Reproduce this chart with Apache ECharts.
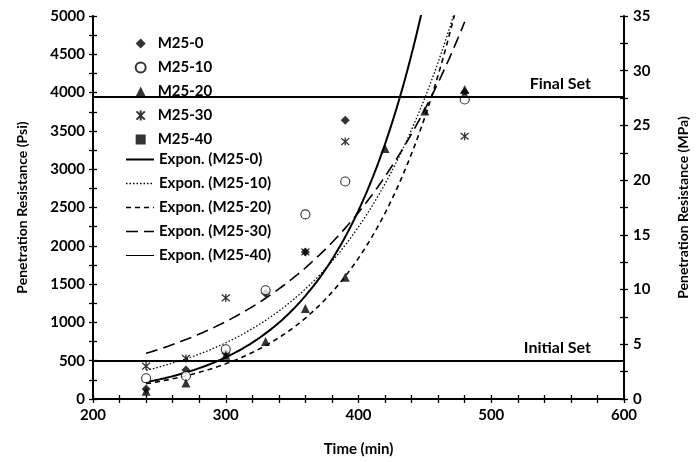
<!DOCTYPE html>
<html>
<head>
<meta charset="utf-8">
<script src="https://cdn.jsdelivr.net/npm/echarts@6/dist/echarts.min.js"></script>
<style>
  html, body { margin: 0; padding: 0; background: #ffffff; }
  #chart { width: 698px; height: 462px; }
</style>
</head>
<body>
<div id="chart"></div>
<script>
// Penetration resistance readings (psi) against elapsed time (min)
const times = [240, 270, 300, 330, 360, 390, 480];
const times20 = [240, 270, 300, 330, 360, 390, 420, 450, 480];
const m25_0 = [130, 380, 600, 1380, 1920, 3640, 4000];
const m25_10 = [270, 300, 650, 1420, 2410, 2840, 3910];
const m25_20 = [100, 210, 570, 750, 1180, 1590, 3270, 3760, 4040];
const m25_30 = [430, 530, 1320, 1800, 1920, 3360, 3430];
const m25_40 = [];

const mixNames = ['M25-0', 'M25-10', 'M25-20', 'M25-30', 'M25-40'];
const trendNames = ['Expon. (M25-0)', 'Expon. (M25-10)', 'Expon. (M25-20)', 'Expon. (M25-30)', 'Expon. (M25-40)'];

// Exponential trend equations: psi = a * exp(b * t)
const trendA = [5.887, 25.57, 7.166, 72.1];
const trendB = [0.01509, 0.01119, 0.01387, 0.0088];
const trendFrom = [240, 240, 240, 240];
const trendTo = [480, 480, 480, 480];

// Setting thresholds (psi), plotted on the MPa axis
const setNames = ['Initial Set', 'Final Set'];
const setPsi = [500, 4000];
const PSI_TO_MPA = 0.00689476;

const xTicks = { min: 200, max: 600, step: 20, labelStep: 100 };
const psiTicks = { min: 0, max: 5000, step: 250, labelStep: 500 };
const mpaTicks = { min: 0, max: 35, step: 2.5, labelStep: 5 };

const FONT = 'Lato';
const INK = '#000000';

function pairs(xs, ys) { return ys.map((y, i) => [xs[i], y]); }

function trendPoints(i) {
  if (i >= trendA.length) return [];
  const pts = [];
  for (let t = trendFrom[i]; t <= trendTo[i] + 1e-9; t += 1) {
    pts.push([t, trendA[i] * Math.exp(trendB[i] * t)]);
  }
  return pts;
}

const asterisk = 'path://M0,0L10,10M10,0L0,10M5,-1L5,11';

const scatterStyles = [
  { symbol: 'diamond', symbolSize: 9, itemStyle: { color: INK } },
  { symbol: 'circle', symbolSize: 9, itemStyle: { color: '#ffffff', borderColor: INK, borderWidth: 1.1 } },
  { symbol: 'triangle', symbolSize: 9, itemStyle: { color: INK } },
  { symbol: asterisk, symbolSize: 8, itemStyle: { color: 'none', borderColor: INK, borderWidth: 1.3 } },
  { symbol: 'rect', symbolSize: 9, itemStyle: { color: INK } }
];
const scatterData = [pairs(times, m25_0), pairs(times, m25_10), pairs(times20, m25_20), pairs(times, m25_30), pairs(times, m25_40)];

const trendStyles = [
  { width: 2, type: 'solid' },
  { width: 1.3, type: [1.5, 2] },
  { width: 1.6, type: [5, 4] },
  { width: 1.6, type: [12, 6] },
  { width: 1, type: 'solid' }
];

const tickLabel = (step) => (v) => (Math.abs(v / step - Math.round(v / step)) < 1e-6 ? String(v) : '');

const labelFont = { color: INK, fontFamily: FONT, fontWeight: 'bold', fontSize: 15 };
const nameFont = { color: INK, fontFamily: FONT, fontWeight: 'bold', fontSize: 14 };
const axisLine = { show: true, lineStyle: { color: INK, width: 2 } };
const legendText = { color: INK, fontFamily: FONT, fontWeight: 'bold', fontSize: 15, lineHeight: 14 };

const series = [];
mixNames.forEach((n, i) => {
  series.push(Object.assign({
    name: n, type: 'scatter', xAxisIndex: 0, yAxisIndex: 0,
    data: scatterData[i], z: 3
  }, scatterStyles[i]));
});
trendNames.forEach((n, i) => {
  series.push({
    name: n, type: 'line', xAxisIndex: 0, yAxisIndex: 0,
    data: trendPoints(i), showSymbol: false, symbol: 'none', smooth: false,
    lineStyle: { color: INK, width: trendStyles[i].width, type: trendStyles[i].type },
    itemStyle: { color: INK }, z: 2, clip: true
  });
});
series.push({
  name: 'sets', type: 'line', xAxisIndex: 0, yAxisIndex: 2, data: [],
  markLine: {
    silent: true, symbol: 'none', animation: false,
    lineStyle: { color: INK, width: 2, type: 'solid' },
    label: {
      show: true, position: 'insideEndTop', formatter: '{b}', distance: [33, 5],
      color: INK, fontFamily: FONT, fontWeight: 'bold', fontSize: 16
    },
    data: setNames.map((n, i) => ({ name: n, yAxis: setPsi[i] * PSI_TO_MPA }))
  }
});

const option = {
  animation: false,
  backgroundColor: '#ffffff',
  grid: { left: 93, right: 65, top: 16, bottom: 60, containLabel: false },
  legend: [
    {
      orient: 'vertical', left: 129, top: 31, padding: 5,
      backgroundColor: '#ffffff', selectedMode: false,
      itemWidth: 10, itemHeight: 10, itemGap: 9,
      data: mixNames,
      textStyle: Object.assign({ padding: [0, 0, 0, 7] }, legendText)
    },
    {
      orient: 'vertical', left: 120, top: 147, padding: 5,
      backgroundColor: '#ffffff', selectedMode: false,
      itemWidth: 28, itemHeight: 10, itemGap: 9,
      data: trendNames.map((n, i) => ({
        name: n,
        itemStyle: { opacity: 0 },
        lineStyle: { color: INK, width: trendStyles[i].width, type: trendStyles[i].type, opacity: 1 }
      })),
      textStyle: legendText
    }
  ],
  xAxis: [
    {
      type: 'value', position: 'bottom', min: xTicks.min, max: xTicks.max, interval: xTicks.step,
      axisLine: axisLine, splitLine: { show: false },
      axisTick: { show: true, inside: false, length: 4, lineStyle: { color: INK, width: 1.3 } },
      axisLabel: Object.assign({ formatter: tickLabel(xTicks.labelStep), margin: 9 }, labelFont),
      name: 'Time (min)', nameLocation: 'middle', nameGap: 43,
      nameTextStyle: Object.assign({}, nameFont, { fontSize: 15 })
    },
    {
      type: 'value', position: 'bottom', min: xTicks.min, max: xTicks.max, interval: xTicks.step,
      axisLine: { show: false }, splitLine: { show: false }, axisLabel: { show: false },
      axisTick: { show: true, inside: true, length: 4, lineStyle: { color: INK, width: 1.3 } }
    },
    {
      type: 'value', position: 'top', min: xTicks.min, max: xTicks.max,
      axisLine: axisLine, splitLine: { show: false }, axisLabel: { show: false }, axisTick: { show: false }
    }
  ],
  yAxis: [
    {
      type: 'value', position: 'left', min: psiTicks.min, max: psiTicks.max, interval: psiTicks.step,
      axisLine: axisLine, splitLine: { show: false },
      axisTick: { show: true, inside: false, length: 4, lineStyle: { color: INK, width: 1.3 } },
      axisLabel: Object.assign({ formatter: tickLabel(psiTicks.labelStep), margin: 8 }, labelFont),
      name: 'Penetration Resistance (Psi)', nameLocation: 'middle', nameRotate: 90, nameGap: 64,
      nameTextStyle: nameFont
    },
    {
      type: 'value', position: 'left', min: psiTicks.min, max: psiTicks.max, interval: psiTicks.step,
      axisLine: { show: false }, splitLine: { show: false }, axisLabel: { show: false },
      axisTick: { show: true, inside: true, length: 4, lineStyle: { color: INK, width: 1.3 } }
    },
    {
      type: 'value', position: 'right', min: mpaTicks.min, max: mpaTicks.max, interval: mpaTicks.step,
      axisLine: axisLine, splitLine: { show: false },
      axisTick: { show: true, inside: false, length: 4, lineStyle: { color: INK, width: 1.3 } },
      axisLabel: Object.assign({ formatter: tickLabel(mpaTicks.labelStep), margin: 9 }, labelFont),
      name: 'Penetration Resistance (MPa)', nameLocation: 'middle', nameRotate: 90, nameGap: 52,
      nameTextStyle: nameFont
    },
    {
      type: 'value', position: 'right', min: mpaTicks.min, max: mpaTicks.max, interval: mpaTicks.step,
      axisLine: { show: false }, splitLine: { show: false }, axisLabel: { show: false },
      axisTick: { show: true, inside: true, length: 4, lineStyle: { color: INK, width: 1.3 } }
    }
  ],
  series: series
};

const chart = echarts.init(document.getElementById('chart'), null, { renderer: 'canvas' });
chart.setOption(option);
</script>
</body>
</html>
